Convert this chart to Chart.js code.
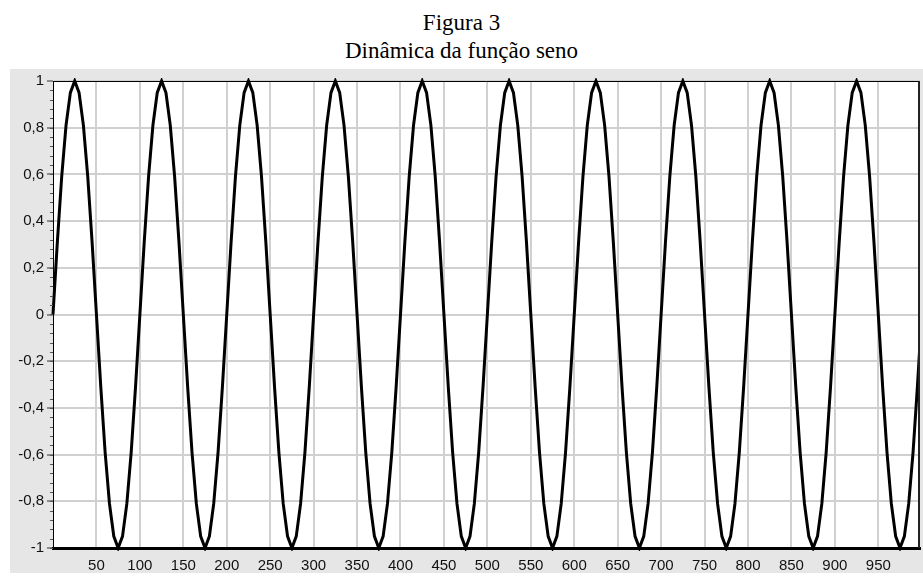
<!DOCTYPE html>
<html>
<head>
<meta charset="utf-8">
<script src="https://cdn.jsdelivr.net/npm/chart.js@4/dist/chart.umd.min.js"></script>
<style>
  body { margin: 0; background: #fff; width: 923px; height: 578px; position: relative; overflow: hidden; }
  #title { position: absolute; left: 0; top: 9px; width: 923px; text-align: center;
           font-family: "Liberation Serif", "Times New Roman", serif; font-size: 23px; line-height: 28px; color: #000; }
  #panel { position: absolute; left: 10px; top: 69px; width: 913px; height: 504px; background: #e6e6e6; }
</style>
</head>
<body>
<div id="title">Figura 3<br>Dinâmica da função seno</div>
<div id="panel"><canvas id="sine-chart" width="913" height="504"></canvas></div>
<script>
// samples every 5 units along x, starting at 0
const X_STEP = 5;
const sineValues = [
    0, 0.31, 0.59, 0.81, 0.95, 1, 0.95, 0.81, 0.59, 0.31, 0, -0.31, -0.59, -0.81, -0.95, -1, -0.95, -0.81, -0.59, -0.31,
    0, 0.31, 0.59, 0.81, 0.95, 1, 0.95, 0.81, 0.59, 0.31, 0, -0.31, -0.59, -0.81, -0.95, -1, -0.95, -0.81, -0.59, -0.31,
    0, 0.31, 0.59, 0.81, 0.95, 1, 0.95, 0.81, 0.59, 0.31, 0, -0.31, -0.59, -0.81, -0.95, -1, -0.95, -0.81, -0.59, -0.31,
    0, 0.31, 0.59, 0.81, 0.95, 1, 0.95, 0.81, 0.59, 0.31, 0, -0.31, -0.59, -0.81, -0.95, -1, -0.95, -0.81, -0.59, -0.31,
    0, 0.31, 0.59, 0.81, 0.95, 1, 0.95, 0.81, 0.59, 0.31, 0, -0.31, -0.59, -0.81, -0.95, -1, -0.95, -0.81, -0.59, -0.31,
    0, 0.31, 0.59, 0.81, 0.95, 1, 0.95, 0.81, 0.59, 0.31, 0, -0.31, -0.59, -0.81, -0.95, -1, -0.95, -0.81, -0.59, -0.31,
    0, 0.31, 0.59, 0.81, 0.95, 1, 0.95, 0.81, 0.59, 0.31, 0, -0.31, -0.59, -0.81, -0.95, -1, -0.95, -0.81, -0.59, -0.31,
    0, 0.31, 0.59, 0.81, 0.95, 1, 0.95, 0.81, 0.59, 0.31, 0, -0.31, -0.59, -0.81, -0.95, -1, -0.95, -0.81, -0.59, -0.31,
    0, 0.31, 0.59, 0.81, 0.95, 1, 0.95, 0.81, 0.59, 0.31, 0, -0.31, -0.59, -0.81, -0.95, -1, -0.95, -0.81, -0.59, -0.31,
    0, 0.31, 0.59, 0.81, 0.95, 1, 0.95, 0.81, 0.59, 0.31, 0, -0.31, -0.59, -0.81, -0.95, -1, -0.95, -0.81, -0.59, -0.31,
    0
];
const xTicks = [50, 100, 150, 200, 250, 300, 350, 400, 450, 500, 550, 600, 650, 700, 750, 800, 850, 900, 950];
const yTicks = [-1, -0.8, -0.6, -0.4, -0.2, 0, 0.2, 0.4, 0.6, 0.8, 1];
const yMinorStep = 0.04;

const labelFont = { family: 'Liberation Sans, Arial, sans-serif', size: 15 };

// white plot area, frame on top/right and small ticks along the y axis
const frame = {
    id: 'frame',
    beforeDraw(chart) {
        const a = chart.chartArea, ctx = chart.ctx;
        ctx.save();
        ctx.fillStyle = '#fff';
        ctx.fillRect(a.left, a.top, a.right - a.left, a.bottom - a.top);
        ctx.restore();
    },
    afterDraw(chart) {
        const a = chart.chartArea, ctx = chart.ctx, y = chart.scales.y;
        ctx.save();
        ctx.strokeStyle = '#000';
        ctx.lineWidth = 1;
        ctx.beginPath();
        ctx.moveTo(a.left, a.top + 0.5);
        ctx.lineTo(a.right, a.top + 0.5);
        ctx.stroke();
        ctx.lineWidth = 2;
        ctx.strokeStyle = '#222';
        ctx.beginPath();
        ctx.moveTo(a.right - 1, a.top);
        ctx.lineTo(a.right - 1, a.bottom);
        ctx.stroke();
        ctx.lineWidth = 1;
        ctx.strokeStyle = '#555';
        ctx.beginPath();
        for (let v = -1; v < 1; v += yMinorStep) {
            const py = Math.round(y.getPixelForValue(v)) + 0.5;
            ctx.moveTo(a.left - 3, py);
            ctx.lineTo(a.left, py);
        }
        ctx.stroke();
        ctx.restore();
    }
};

new Chart(document.getElementById('sine-chart'), {
    type: 'line',
    data: {
        datasets: [{
            data: sineValues.map((v, i) => ({ x: i * X_STEP, y: v })),
            borderColor: '#000',
            borderWidth: 3,
            pointRadius: 0,
            tension: 0,
            clip: { left: 2, top: 3, right: 0, bottom: 3 }
        }]
    },
    options: {
        responsive: false,
        animation: false,
        devicePixelRatio: 1,
        layout: { padding: { left: 0, top: 12, right: 3, bottom: 0 } },
        plugins: { legend: { display: false }, title: { display: false }, tooltip: { enabled: false } },
        scales: {
            x: {
                type: 'linear',
                min: 0,
                max: 998,
                afterBuildTicks: s => { s.ticks = xTicks.map(v => ({ value: v })); },
                afterFit: s => { s.height = 25; },
                ticks: { color: '#111', font: labelFont, padding: 9, maxRotation: 0, autoSkip: false },
                grid: { color: '#d0d0d0', lineWidth: 2, drawTicks: false },
                border: { color: '#000', width: 3 }
            },
            y: {
                min: -1,
                max: 1,
                afterBuildTicks: s => { s.ticks = yTicks.map(v => ({ value: v })); },
                afterFit: s => { s.width = 43; },
                ticks: {
                    color: '#111',
                    font: labelFont,
                    padding: 3,
                    callback: v => String(v).replace('.', ',')
                },
                grid: { color: '#d0d0d0', lineWidth: 2, tickColor: '#333', tickLength: 6, tickWidth: 1 },
                border: { color: '#000', width: 1 }
            }
        }
    },
    plugins: [frame]
});
</script>
</body>
</html>
